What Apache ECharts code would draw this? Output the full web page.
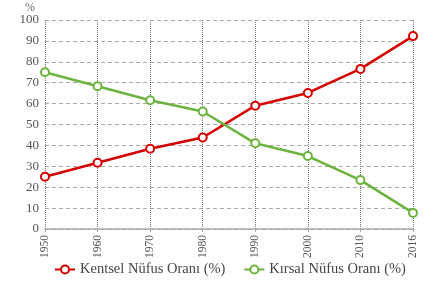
<!DOCTYPE html>
<html>
<head>
<meta charset="utf-8">
<script src="https://cdn.jsdelivr.net/npm/echarts@6/dist/echarts.min.js"></script>
<style>
  html, body { margin: 0; padding: 0; background: #fff; }
  #chart { width: 440px; height: 285px; }
</style>
</head>
<body>
<div id="chart"></div>
<script>
const years = ["1950", "1960", "1970", "1980", "1990", "2000", "2010", "2016"];
const kentsel = [25, 31.7, 38.4, 43.8, 59, 65.1, 76.6, 92.3];
const kirsal = [75, 68.3, 61.6, 56.2, 41, 34.9, 23.4, 7.7];
const seriesNames = ["Kentsel Nüfus Oranı (%)", "Kırsal Nüfus Oranı (%)"];

const font = "'Liberation Serif', 'DejaVu Serif', serif";
const myChart = echarts.init(document.getElementById("chart"));

function lineSeries(name, data, color) {
  return {
    name: name,
    type: "line",
    data: data,
    symbol: "emptyCircle",
    symbolSize: 8,
    lineStyle: { color: color, width: 2.5 },
    itemStyle: { color: color, borderColor: color, borderWidth: 2.5 }
  };
}

const option = {
  animation: false,
  textStyle: { fontFamily: font },
  grid: { left: 45, right: 27, top: 20, bottom: 56 },
  legend: {
    bottom: 3,
    left: 49,
    itemGap: 18,
    itemWidth: 20,
    itemHeight: 10,
    textStyle: { fontFamily: font, fontSize: 14.5, color: "#444" },
    data: seriesNames
  },
  xAxis: {
    type: "category",
    data: years,
    boundaryGap: false,
    axisLine: { lineStyle: { color: "#aaa", width: 1.5 } },
    axisTick: { show: true, alignWithLabel: true, length: 3, lineStyle: { color: "#aaa" } },
    axisLabel: { rotate: 90, color: "#555", fontSize: 11.5, fontFamily: font, margin: 6 },
    splitLine: { show: true, lineStyle: { color: "#777", type: [1, 1], width: 1 } }
  },
  yAxis: {
    type: "value",
    min: 0,
    max: 100,
    interval: 10,
    name: "%",
    nameGap: 4,
    nameTextStyle: { color: "#666", fontSize: 12, fontFamily: font, align: "right", padding: [0, 10, 0, 0] },
    axisLine: { show: false },
    axisTick: { show: false },
    axisLabel: { color: "#555", fontSize: 13, fontFamily: font, margin: 6 },
    splitLine: { lineStyle: { color: "#aaa", type: [4, 3], width: 1 } }
  },
  series: [
    lineSeries(seriesNames[0], kentsel, "#d60000"),
    lineSeries(seriesNames[1], kirsal, "#6db33f")
  ]
};

myChart.setOption(option);
</script>
</body>
</html>
